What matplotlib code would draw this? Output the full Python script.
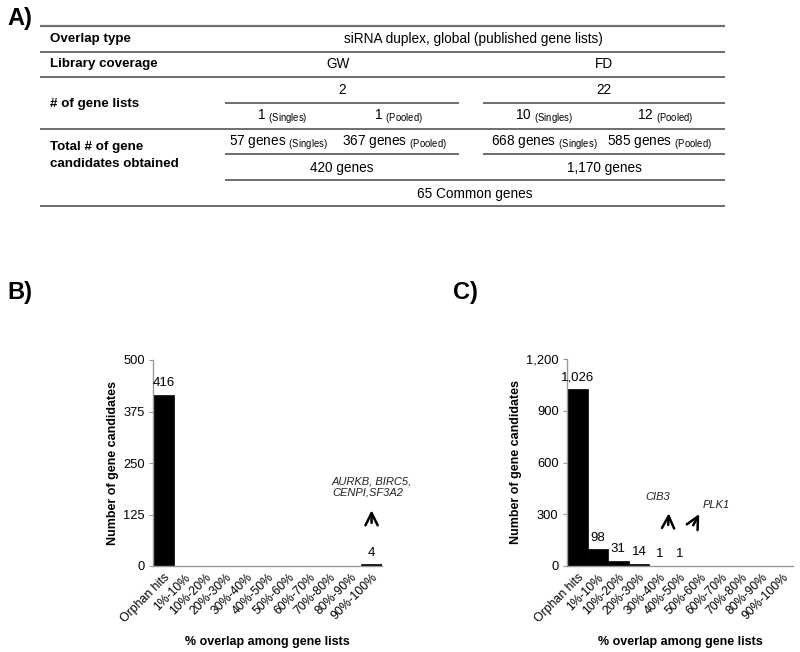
import matplotlib
matplotlib.use("Agg")
import matplotlib.pyplot as plt

plt.rcParams['font.family'] = ['Liberation Sans', 'DejaVu Sans']
plt.rcParams['mathtext.fontset'] = 'custom'
plt.rcParams['mathtext.rm'] = 'Liberation Sans'
plt.rcParams['mathtext.it'] = 'Liberation Sans:italic'
plt.rcParams['mathtext.bf'] = 'Liberation Sans:bold'

# ---------------- data ----------------
categories = ["Orphan hits", "1%-10%", "10%-20%", "20%-30%", "30%-40%", "40%-50%",
              "50%-60%", "60%-70%", "70%-80%", "80%-90%", "90%-100%"]
values_B = [416, 0, 0, 0, 0, 0, 0, 0, 0, 0, 4]
values_C = [1026, 98, 31, 14, 1, 1, 0, 0, 0, 0, 0]
yticks_B = [0, 125, 250, 375, 500]
yticks_C = [0, 300, 600, 900, 1200]

row_labels = ["Overlap type", "Library coverage", "# of gene lists",
              "Total # of gene\ncandidates obtained"]
overlap_type = "siRNA duplex, global (published gene lists)"
coverage = ["GW", "FD"]
n_lists = ["2", "22"]
n_lists_split = [("1", "Singles"), ("1", "Pooled"), ("10", "Singles"), ("12", "Pooled")]
genes_split = [("57 genes", "Singles"), ("367 genes", "Pooled"),
               ("668 genes", "Singles"), ("585 genes", "Pooled")]
genes_total = ["420 genes", "1,170 genes"]
common = "65 Common genes"

W, H = 800, 652
fig = plt.figure(figsize=(W / 100, H / 100), dpi=100)

# ---------------- table (panel A) ----------------
axt = fig.add_axes([0, 0, 1, 1])
axt.set_xlim(0, W)
axt.set_ylim(H, 0)
axt.axis('off')

lc = '#555555'
lw = 1.2
def hline(y, x0, x1, lw_=lw, c=lc):
    axt.plot([x0, x1], [y, y], color=c, lw=lw_, solid_capstyle='butt')

hline(26, 40, 725, 1.6, '#707070')
hline(52, 40, 725)
hline(77, 40, 725)
hline(103, 225, 459); hline(103, 483, 725)
hline(129, 40, 725)
hline(154, 225, 459); hline(154, 483, 725)
hline(180, 225, 725)
hline(206, 40, 725)

fs = 9.8
axt.text(7, 18, "A)", fontsize=17, fontweight='bold', va='center', ha='left')
axt.text(50, 39, row_labels[0], fontsize=9.6, fontweight='bold', va='center')
axt.text(50, 64, row_labels[1], fontsize=9.6, fontweight='bold', va='center')
axt.text(50, 104, row_labels[2], fontsize=9.6, fontweight='bold', va='center')
axt.text(50, 155.5, row_labels[3], fontsize=9.6, fontweight='bold', va='center',
         linespacing=1.45)

axt.text(473, 39, overlap_type, fontsize=fs, va='center', ha='center')
axt.text(338, 64, coverage[0], fontsize=fs, va='center', ha='center')
axt.text(604, 64, coverage[1], fontsize=fs, va='center', ha='center')
axt.text(342, 90, n_lists[0], fontsize=fs, va='center', ha='center')
axt.text(604, 90, n_lists[1], fontsize=fs, va='center', ha='center')

def subtext(x, y, main, sub):
    axt.text(x, y, main + r" $_{\mathrm{(" + sub + ")}}$", fontsize=fs,
             va='center', ha='center')

for x, (m, s) in zip([282, 399, 544, 665], n_lists_split):
    subtext(x, 117, m, s)
for x, (m, s) in zip([278, 395, 544, 660], genes_split):
    subtext(x, 143, m, s)
axt.text(342, 168, genes_total[0], fontsize=fs, va='center', ha='center')
axt.text(604, 168, genes_total[1], fontsize=fs, va='center', ha='center')
axt.text(475, 194, common, fontsize=fs, va='center', ha='center')

axt.text(7, 292, "B)", fontsize=17, fontweight='bold', va='center', ha='left')
axt.text(453, 292, "C)", fontsize=17, fontweight='bold', va='center', ha='left')

# ---------------- bar charts ----------------
def style_axes(ax, ymax, yticks, values):
    x = list(range(len(categories)))
    bars = ax.bar(x, values, width=1.0, color='black', edgecolor='black', lw=0.5)
    ax.bar_label(bars, labels=[f"{v:,}" if v else "" for v in values],
                 padding=4, fontsize=9.5)
    ax.set_xlim(-0.5, len(categories) - 0.5)
    ax.set_ylim(0, ymax)
    ax.set_yticks(yticks)
    ax.set_yticklabels([f"{t:,}" for t in yticks], fontsize=9.3)
    ax.set_xticks(x)
    ax.set_xticklabels(categories, rotation=45, ha='right', va='top',
                       rotation_mode='anchor', fontsize=8.8)
    for s in ['top', 'right']:
        ax.spines[s].set_visible(False)
    for s in ['left', 'bottom']:
        ax.spines[s].set_color('#999999')
        ax.spines[s].set_linewidth(1.0)
    ax.tick_params(axis='x', length=0, pad=4)
    ax.tick_params(axis='y', length=3, color='#999999', pad=3)
    ax.set_ylabel("Number of gene candidates", fontsize=9, fontweight='bold', labelpad=3)
    ax.set_xlabel("% overlap among gene lists", fontsize=9, fontweight='bold', labelpad=8)
    ax.patch.set_alpha(0)

axB = fig.add_axes([153 / W, 1 - 566 / H, 229 / W, 206 / H])
style_axes(axB, 500, yticks_B, values_B)
axB.text(8.1, 192, "AURKB, BIRC5,\nCENPI,SF3A2", fontsize=8, style='italic',
         ha='left', va='center', color='#222222', linespacing=1.2)
axB.annotate("", xy=(10, 142), xytext=(10, 98),
             arrowprops=dict(arrowstyle='->', lw=1.8, color='black',
                             mutation_scale=22))

axC = fig.add_axes([567 / W, 1 - 566 / H, 226 / W, 207 / H])
style_axes(axC, 1200, yticks_C, values_C)
axC.text(3.9, 400, "CIB3", fontsize=8, style='italic', ha='center', va='center',
         color='#222222')
axC.annotate("", xy=(4.46, 322), xytext=(4.42, 222),
             arrowprops=dict(arrowstyle='->', lw=1.8, color='black',
                             mutation_scale=22))
axC.text(6.1, 354, "PLK1", fontsize=8, style='italic', ha='left', va='center',
         color='#222222')
axC.annotate("", xy=(6.0, 316), xytext=(5.58, 222),
             arrowprops=dict(arrowstyle='->', lw=1.8, color='black',
                             mutation_scale=22))

fig.savefig("out.png", dpi=100)
